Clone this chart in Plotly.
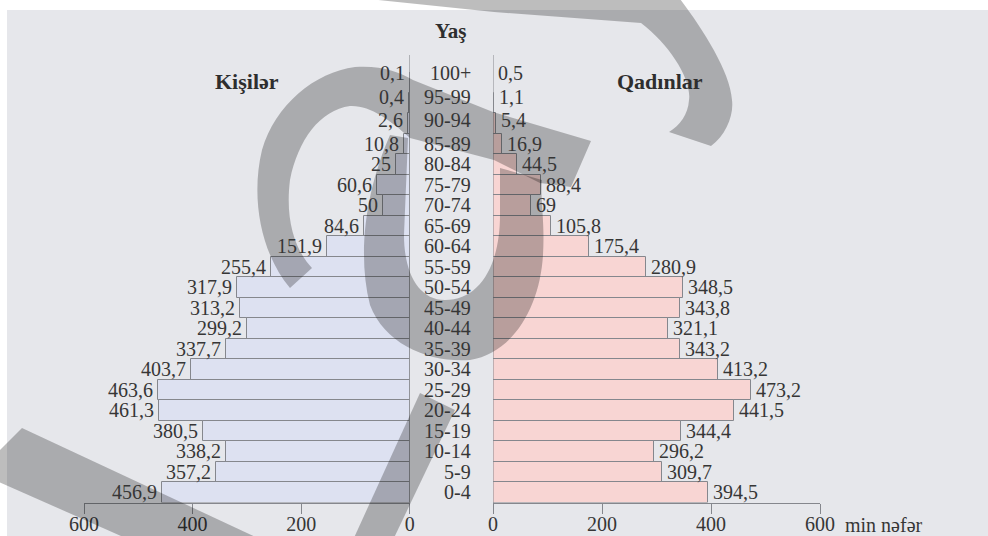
import plotly.graph_objects as go

# Population by age group (thousand people)
ages = ["100+", "95-99", "90-94", "85-89", "80-84", "75-79", "70-74", "65-69",
        "60-64", "55-59", "50-54", "45-49", "40-44", "35-39", "30-34", "25-29",
        "20-24", "15-19", "10-14", "5-9", "0-4"]
males = [0.1, 0.4, 2.6, 10.8, 25, 60.6, 50, 84.6, 151.9, 255.4, 317.9, 313.2,
         299.2, 337.7, 403.7, 463.6, 461.3, 380.5, 338.2, 357.2, 456.9]
females = [0.5, 1.1, 5.4, 16.9, 44.5, 88.4, 69, 105.8, 175.4, 280.9, 348.5, 343.8,
           321.1, 343.2, 413.2, 473.2, 441.5, 344.4, 296.2, 309.7, 394.5]
tick_vals = [0, 200, 400, 600]

W, H = 988, 536
FONT = "Liberation Serif"
TXT = "#363636"
LINE = "#85878d"
FS = 20

# the top rows have tiny bars, so their labels sit a little higher
row_nudge = {0: 9, 1: 6, 2: 3}


def fmt(v):
    return f"{v:g}".replace(".", ",")


def px(x, y):
    return x / W, 1 - y / H


def path(cmds):
    """Build an SVG path in paper units from pixel points; one command per segment."""
    n = {"M": 1, "L": 1, "C": 3}
    out = []
    for c, pts in cmds:
        k = n[c]
        for j in range(0, len(pts), k):
            seg = c
            for (x, y) in pts[j:j + k]:
                a, b = px(x, y)
                seg += f" {a:.5f},{b:.5f}"
            out.append(seg)
    return " ".join(out) + " Z"


fig = go.Figure()

fig.add_trace(go.Bar(
    y=ages, x=males, orientation="h", xaxis="x", yaxis="y",
    marker=dict(color="#dde1f1", line=dict(color=LINE, width=1)),
    showlegend=False, hoverinfo="x+y",
))
fig.add_trace(go.Bar(
    y=ages, x=females, orientation="h", xaxis="x2", yaxis="y",
    marker=dict(color="#f8d5d3", line=dict(color=LINE, width=1)),
    showlegend=False, hoverinfo="x+y",
))

axis_common = dict(
    tickvals=tick_vals, ticks="outside", ticklen=10, tickcolor=LINE,
    ticklabelstandoff=-7,
    showline=True, linecolor=LINE, linewidth=1, showgrid=False, zeroline=False,
    tickfont=dict(family=FONT, size=FS, color=TXT), fixedrange=True,
)

y_bottom = (H - 502.5) / H
y_top = (H - 72) / H

fig.update_layout(
    width=W, height=H, autosize=False,
    margin=dict(l=0, r=0, t=0, b=0, pad=0, autoexpand=False),
    paper_bgcolor="white", plot_bgcolor="rgba(0,0,0,0)",
    bargap=0,
    xaxis=dict(domain=[84 / W, 409.7 / W], range=[600, 0], anchor="y", **axis_common),
    xaxis2=dict(domain=[493 / W, 820 / W], range=[0, 600], anchor="y", **axis_common),
    yaxis=dict(domain=[y_bottom, y_top], range=[20.5, -0.5], visible=False,
               type="category", anchor="x", fixedrange=True),
    font=dict(family=FONT, color=TXT),
)

shapes = []
# light panel behind the chart
shapes.append(dict(type="rect", xref="paper", yref="paper",
                   x0=7 / W, x1=1, y0=0, y1=1 - 10 / H,
                   fillcolor="#e6e7eb", line=dict(width=0), layer="below"))
# vertical zero lines of both halves
for ax in ("x", "x2"):
    shapes.append(dict(type="line", xref=ax, yref="paper", x0=0, x1=0,
                       y0=(H - 503) / H, y1=(H - 55) / H,
                       line=dict(color=LINE, width=1)))

# watermark logo overlay
wm = "rgba(0,0,0,0.26)"
logo = [
    # top hook
    [("M", [(330, -5)]), ("L", [(494, 12), (641, 23)]),
     ("C", [(670, 45), (692, 80), (689, 100)]),
     ("C", [(688, 115), (680, 125), (669, 132)]),
     ("L", [(711, 146)]),
     ("C", [(726, 135), (734, 115), (732, 100)]),
     ("C", [(730, 70), (700, 25), (677, -5)])],
    # large curved stroke with diagonal band
    [("M", [(290, 288)]),
     ("C", [(262, 255), (250, 200), (262, 150)]),
     ("C", [(275, 105), (315, 72), (355, 67)]),
     ("C", [(380, 65), (400, 72), (413, 80)]),
     ("L", [(493, 112), (591, 141), (571, 187)]),
     ("L", [(540, 183), (494, 160), (410, 138)]),
     ("C", [(390, 120), (370, 105), (350, 106)]),
     ("C", [(320, 110), (298, 140), (290, 180)]),
     ("C", [(285, 220), (295, 250), (312, 268)])],
    # loop
    [("M", [(390, 135)]),
     ("C", [(368, 185), (356, 250), (370, 305)]),
     ("C", [(385, 345), (430, 363), (470, 360)]),
     ("C", [(515, 352), (540, 305), (543, 255)]),
     ("C", [(545, 220), (540, 200), (542, 180)]),
     ("L", [(500, 168), (500, 215)]),
     ("C", [(500, 265), (480, 300), (445, 300)]),
     ("C", [(418, 300), (404, 272), (404, 235)]),
     ("L", [(408, 138)])],
    # lower diagonal stroke
    [("M", [(353, 540)]), ("L", [(420, 393), (455, 410), (393, 540)])],
    # bottom-left band
    [("M", [(22, 428)]), ("L", [(262, 540), (130, 540), (-10, 478), (-10, 460)])],
]
for p in logo:
    shapes.append(dict(type="path", xref="paper", yref="paper", path=path(p),
                       fillcolor=wm, line=dict(width=0), layer="above"))
fig.update_layout(shapes=shapes)

ann = []
txt_font = dict(family=FONT, size=FS, color=TXT)
for i, a in enumerate(ages):
    dy = row_nudge.get(i, 0)
    # age group labels in the centre column
    ann.append(dict(x=473 / W, xref="paper", xanchor="right", y=a, yref="y",
                    yshift=dy, text=a, showarrow=False, font=txt_font))
    # value labels just beyond the end of each bar
    ann.append(dict(x=males[i], xref="x", xanchor="right", xshift=-3,
                    y=a, yref="y", yshift=dy, text=fmt(males[i]),
                    showarrow=False, font=txt_font))
    ann.append(dict(x=females[i], xref="x2", xanchor="left", xshift=3,
                    y=a, yref="y", yshift=dy, text=fmt(females[i]),
                    showarrow=False, font=txt_font))


def label(text, x, y, size, bold=False, xanchor="center"):
    t = f"<b>{text}</b>" if bold else text
    xx, yy = px(x, y)
    ann.append(dict(x=xx, y=yy, xref="paper", yref="paper", text=t,
                    showarrow=False, xanchor=xanchor, yanchor="middle",
                    font=dict(family=FONT, size=size, color="#2e2e2e" if bold else TXT)))


label("Yaş", 451, 31, 21, bold=True)
label("Kişilər", 247, 81, 22, bold=True)
label("Qadınlar", 660, 81, 22, bold=True)
label("min nəfər", 843, 525, FS, xanchor="left")
fig.update_layout(annotations=ann)

fig.write_html("out.html")
